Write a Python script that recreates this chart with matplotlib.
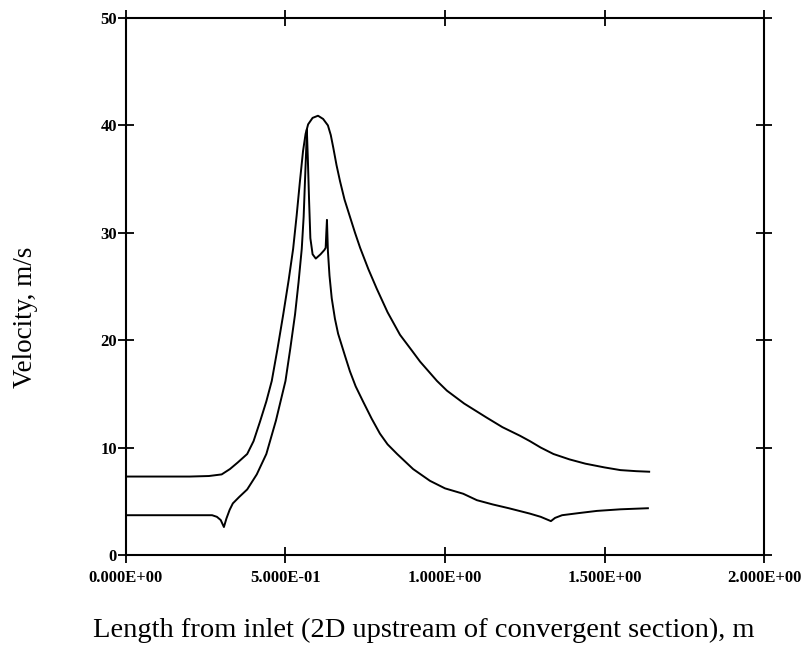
import matplotlib
matplotlib.use('Agg')
import matplotlib.pyplot as plt

# upper curve: x in m, velocity in m/s
x_upper = [0.0, 0.10, 0.20, 0.26, 0.30, 0.326, 0.35, 0.38, 0.40, 0.42, 0.44,
           0.457, 0.475, 0.493, 0.51, 0.524, 0.535, 0.545, 0.555, 0.563, 0.571,
           0.585, 0.602, 0.618, 0.633, 0.642, 0.65, 0.66, 0.671, 0.685, 0.702,
           0.718, 0.734, 0.76, 0.786, 0.82, 0.859, 0.897, 0.922, 0.975, 1.006,
           1.06, 1.13, 1.18, 1.235, 1.266, 1.30, 1.34, 1.39, 1.44, 1.50, 1.55,
           1.60, 1.64]
v_upper = [7.3, 7.3, 7.3, 7.35, 7.5, 8.0, 8.6, 9.4, 10.6, 12.4, 14.3,
           16.2, 19.2, 22.4, 25.6, 28.5, 31.6, 34.7, 37.6, 39.2, 40.1,
           40.7, 40.9, 40.6, 40.0, 39.1, 37.9, 36.3, 34.8, 33.1, 31.5,
           30.0, 28.6, 26.6, 24.8, 22.6, 20.5, 19.0, 18.0, 16.2, 15.3,
           14.1, 12.8, 11.9, 11.1, 10.6, 10.0, 9.4, 8.9, 8.5, 8.15, 7.9,
           7.8, 7.75]

# lower curve
x_lower = [0.0, 0.10, 0.20, 0.27, 0.285, 0.297, 0.307, 0.315, 0.325, 0.335,
           0.355, 0.38, 0.41, 0.44, 0.47, 0.50, 0.515, 0.53, 0.541, 0.551,
           0.557, 0.561, 0.565, 0.567, 0.570, 0.574, 0.578, 0.585, 0.595,
           0.61, 0.622, 0.626, 0.628, 0.630, 0.633, 0.638, 0.645, 0.655,
           0.665, 0.687, 0.702, 0.72, 0.743, 0.77, 0.796, 0.82, 0.85, 0.90,
           0.953, 1.00, 1.057, 1.10, 1.15, 1.20, 1.266, 1.30, 1.32, 1.332,
           1.345, 1.367, 1.42, 1.476, 1.55, 1.636]
v_lower = [3.7, 3.7, 3.7, 3.7, 3.55, 3.25, 2.6, 3.4, 4.2, 4.8,
           5.4, 6.1, 7.5, 9.4, 12.5, 16.2, 19.2, 22.4, 25.4, 28.5,
           31.5, 34.7, 37.8, 39.6, 37.0, 33.0, 29.5, 28.0, 27.6,
           28.0, 28.4, 28.6, 30.0, 31.2, 28.3, 26.0, 23.9, 22.0,
           20.6, 18.5, 17.1, 15.7, 14.3, 12.7, 11.3, 10.3, 9.4, 8.0,
           6.9, 6.2, 5.7, 5.1, 4.7, 4.35, 3.85, 3.55, 3.3, 3.15,
           3.45, 3.7, 3.9, 4.1, 4.25, 4.35]

x_ticks = [0.0, 0.5, 1.0, 1.5, 2.0]
x_ticklabels = ['0.000E+00', '5.000E-01', '1.000E+00', '1.500E+00', '2.000E+00']
y_ticks = [0, 10, 20, 30, 40, 50]

plt.rcParams['font.family'] = ['Liberation Serif', 'DejaVu Serif']

fig = plt.figure(figsize=(8.09, 6.67), dpi=100)
ax = fig.add_axes([0.1557, 0.168, 0.7887, 0.805])

ax.plot(x_upper, v_upper, color='black', lw=1.4)
ax.plot(x_lower, v_lower, color='black', lw=1.4)

ax.set_xlim(0, 2.0)
ax.set_ylim(0, 50)
ax.set_xticks(x_ticks)
ax.set_xticklabels(x_ticklabels)
ax.set_yticks(y_ticks)
ax.tick_params(direction='inout', length=11, width=1.3, top=True, right=True,
               labelsize=12, colors='black')
ax.tick_params(axis='x', pad=5)
ax.tick_params(axis='y', pad=1)
for lab in ax.get_xticklabels() + ax.get_yticklabels():
    lab.set_fontweight('bold')
for sp in ax.spines.values():
    sp.set_linewidth(1.5)

fig.text(0.524, 0.055, 'Length from inlet (2D upstream of convergent section), m',
         ha='center', va='center', fontsize=20.5)
fig.text(0.032, 0.525, 'Velocity, m/s', rotation=90,
         ha='center', va='center', fontsize=19.5)

fig.savefig('out.png', dpi=100)
